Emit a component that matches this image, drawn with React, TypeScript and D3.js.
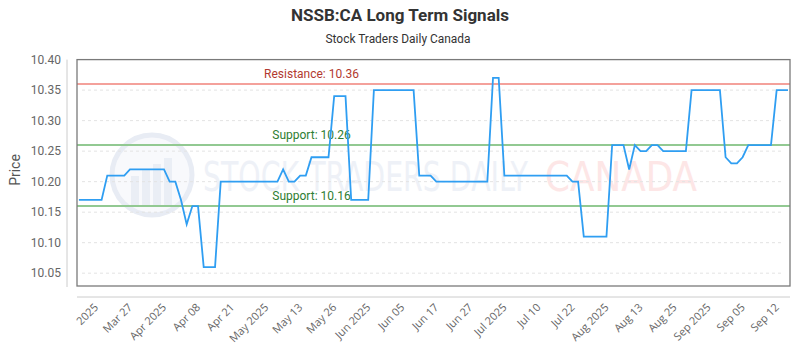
import React, { useLayoutEffect, useRef, useState } from "react";
import * as d3 from "d3";

const TITLE = "NSSB:CA Long Term Signals";
const SUBTITLE = "Stock Traders Daily Canada";

// price per trading point (ordinal x axis)
const prices: number[] = [
  10.17, 10.17, 10.17, 10.17, 10.17,
  10.21, 10.21, 10.21, 10.21,
  10.22, 10.22, 10.22, 10.22, 10.22, 10.22, 10.22,
  10.2, 10.2,
  10.17, 10.13,
  10.16, 10.16,
  10.06, 10.06, 10.06,
  10.2, 10.2, 10.2, 10.2, 10.2, 10.2, 10.2, 10.2, 10.2, 10.2, 10.2,
  10.22,
  10.2, 10.2,
  10.21, 10.21,
  10.24, 10.24, 10.24, 10.24,
  10.34, 10.34, 10.34,
  10.17, 10.17, 10.17, 10.17,
  10.35, 10.35, 10.35, 10.35, 10.35, 10.35, 10.35, 10.35,
  10.21, 10.21, 10.21,
  10.2, 10.2, 10.2, 10.2, 10.2, 10.2, 10.2, 10.2, 10.2, 10.2,
  10.37, 10.37,
  10.21, 10.21, 10.21, 10.21, 10.21, 10.21, 10.21, 10.21, 10.21, 10.21, 10.21, 10.21,
  10.2, 10.2,
  10.11, 10.11, 10.11, 10.11, 10.11,
  10.26, 10.26, 10.26,
  10.22,
  10.26,
  10.25, 10.25,
  10.26, 10.26,
  10.25, 10.25, 10.25, 10.25, 10.25,
  10.35, 10.35, 10.35, 10.35, 10.35, 10.35,
  10.24,
  10.23, 10.23,
  10.24,
  10.26, 10.26, 10.26, 10.26, 10.26,
  10.35, 10.35, 10.35,
];

const tickLabels: string[] = [
  "2025", "Mar 27", "Apr 2025", "Apr 08", "Apr 21", "May 2025", "May 13",
  "May 26", "Jun 2025", "Jun 05", "Jun 17", "Jun 27", "Jul 2025", "Jul 10",
  "Jul 22", "Aug 2025", "Aug 13", "Aug 25", "Sep 2025", "Sep 05", "Sep 12",
];
const tickIndices: number[] = [
  3, 9, 15, 21, 27, 33, 39, 45, 51, 57, 63, 69, 75, 81, 87, 93, 99, 105, 111, 117, 123,
];

const yTicks: number[] = [10.05, 10.1, 10.15, 10.2, 10.25, 10.3, 10.35, 10.4];

const levelValues: number[] = [10.36, 10.26, 10.16];
const levelNames: string[] = ["Resistance", "Support", "Support"];
const levelKinds: string[] = ["res", "sup", "sup"];

const W = 800;
const H = 350;
const BOX = { left: 77, right: 790, top: 59.6, bottom: 286 };

function FitText(props: {
  x: number;
  y: number;
  width: number;
  fontSize: number;
  fill: string;
  fontFamily: string;
  children: string;
}) {
  const ref = useRef<SVGTextElement>(null);
  const [sx, setSx] = useState(1);
  useLayoutEffect(() => {
    if (ref.current) {
      const len = ref.current.getComputedTextLength();
      if (len > 0) setSx(props.width / len);
    }
  }, [props.width, props.children]);
  return (
    <g transform={`translate(${props.x},${props.y}) scale(${sx},1)`}>
      <text
        ref={ref}
        x={0}
        y={0}
        fontSize={props.fontSize}
        fill={props.fill}
        fontFamily={props.fontFamily}
      >
        {props.children}
      </text>
    </g>
  );
}

export default function App() {
  const x = d3
    .scaleLinear()
    .domain([0, prices.length - 1])
    .range([78.9, 788]);
  const y = d3.scaleLinear().domain([10.029, 10.4]).range([BOX.bottom, BOX.top]);

  const line = d3
    .line<number>()
    .x((_, i) => x(i))
    .y((d) => y(d));

  const labelX = x(41);
  const font = "Roboto, 'Open Sans', sans-serif";
  const wmFont = "'DejaVu Sans Condensed', 'DejaVu Sans', sans-serif";

  return (
    <svg
      width={W}
      height={H}
      style={{ position: "absolute", left: 0, top: 0, background: "#fff" }}
      fontFamily={font}
    >
      <rect x={0} y={0} width={W} height={H} fill="#fff" />
      {/* title */}
      <text
        x={400}
        y={21}
        textAnchor="middle"
        fontSize={17}
        fontWeight="bold"
        fill="#333"
        textLength={218}
        lengthAdjust="spacingAndGlyphs"
      >
        {TITLE}
      </text>
      <text
        x={398}
        y={43}
        textAnchor="middle"
        fontSize={12}
        fill="#333"
        textLength={145}
        lengthAdjust="spacingAndGlyphs"
      >
        {SUBTITLE}
      </text>

      {/* watermark */}
      <g>
        <circle cx={152} cy={175} r={40} fill="#f8f9fc" stroke="#e8ecf4" strokeWidth={5} />
        {[0, 1, 2, 3].map((k) => (
          <rect
            key={k}
            x={131 + k * 11}
            y={176 - k * 6}
            width={8}
            height={30 + k * 6}
            fill="#eaeef5"
          />
        ))}
        <FitText x={203} y={191} width={325} fontSize={40} fill="#eef1f7" fontFamily={wmFont}>
          STOCK TRADERS DAILY
        </FitText>
        <FitText x={545} y={191} width={152} fontSize={40} fill="#fde6e6" fontFamily={wmFont}>
          CANADA
        </FitText>
      </g>

      {/* grid lines */}
      {yTicks
        .filter((t) => t < 10.4)
        .map((t) => (
          <line
            key={"g" + t}
            x1={82}
            x2={783}
            y1={y(t)}
            y2={y(t)}
            stroke="#e3e3e3"
            strokeDasharray="3,3"
            strokeWidth={1}
          />
        ))}

      {/* y axis */}
      <line x1={67} x2={67} y1={BOX.top} y2={287} stroke="#ccc" strokeWidth={1} />
      {yTicks.map((t) => (
        <text
          key={"yt" + t}
          x={61}
          y={y(t)}
          dy="0.35em"
          textAnchor="end"
          fontSize={12}
          fill="#666"
        >
          {t.toFixed(2)}
        </text>
      ))}
      <text
        transform={`translate(20,${170}) rotate(-90)`}
        textAnchor="middle"
        fontSize={14}
        fill="#555"
      >
        Price
      </text>

      {/* x axis */}
      <line x1={BOX.left} x2={BOX.right} y1={297} y2={297} stroke="#ccc" strokeWidth={1} />
      {tickIndices.map((ti, k) => (
        <text
          key={"xt" + k}
          transform={`translate(${x(ti) + 3},${308}) rotate(-45)`}
          textAnchor="end"
          fontSize={11}
          fill="#666"
          fontFamily="'Open Sans', sans-serif"
        >
          {tickLabels[k]}
        </text>
      ))}

      {/* support / resistance */}
      {levelValues.map((v, k) => (
        <g key={"lv" + k}>
          <line
            x1={BOX.left}
            x2={BOX.right}
            y1={y(v)}
            y2={y(v)}
            stroke={levelKinds[k] === "res" ? "#f4a19b" : "#92c992"}
            strokeWidth={2}
          />
          <text
            x={labelX}
            y={y(v) - 6}
            textAnchor="middle"
            fontSize={12}
            fill={levelKinds[k] === "res" ? "#b23a30" : "#2e7d32"}
          >
            {`${levelNames[k]}: ${v.toFixed(2)}`}
          </text>
        </g>
      ))}

      {/* price line */}
      <path d={line(prices) || ""} fill="none" stroke="#2f9ef2" strokeWidth={1.8} />

      {/* plot border */}
      <rect
        x={BOX.left}
        y={BOX.top}
        width={BOX.right - BOX.left}
        height={BOX.bottom - BOX.top}
        fill="none"
        stroke="#7a7a7a"
        strokeWidth={1.3}
      />
    </svg>
  );
}
